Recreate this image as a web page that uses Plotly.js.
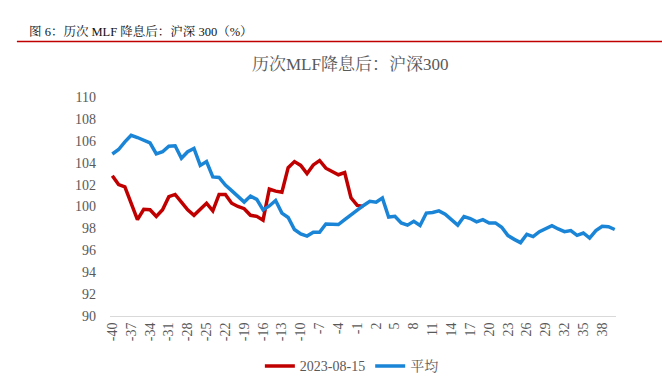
<!DOCTYPE html>
<html>
<head>
<meta charset="utf-8">
<script src="https://cdn.plot.ly/plotly-3.0.1.min.js"></script>
<style>html,body{margin:0;padding:0;background:#fff;}#chart{width:662px;height:389px;}</style>
</head>
<body>
<div id="chart"></div>
<script>
const days = [];
for (let d = -40; d <= 40; d++) days.push(d);

const series2023Name = "2023-08-15";
const series2023 = [102.8, 102.0, 101.8, 100.4, 98.8, 99.75, 99.7, 99.1, 99.7, 100.9,
  101.1, 100.4, 99.7, 99.2, 99.7, 100.3, 99.6, 101.1, 101.1, 100.3,
  100.0, 99.8, 99.2, 99.1, 98.75, 101.6, 101.4, 101.3, 103.55, 104.1,
  103.75, 103.0, 103.8, 104.2, 103.5, 103.2, 102.9, 103.1, 100.8, 100.1,
  100.0];

const seriesAvgName = "平均";
const seriesAvg = [104.8, 105.2, 105.9, 106.5, 106.3, 106.05, 105.8, 104.8, 105.0, 105.5,
  105.55, 104.4, 105.0, 105.3, 103.75, 104.1, 102.7, 102.65, 101.95, 101.45,
  100.9, 100.4, 100.95, 100.65, 99.7, 100.05, 100.55, 99.4, 99.0, 97.9,
  97.5, 97.3, 97.65, 97.65, 98.4, 98.35, 98.35, 98.8, 99.25, 99.6,
  100.1, 100.47, 100.4, 100.78, 99.04, 99.1, 98.5, 98.3, 98.65, 98.27,
  99.4, 99.45, 99.6, 99.3, 98.8, 98.3, 99.08, 98.9, 98.6, 98.8,
  98.5, 98.5, 98.1, 97.34, 97.0, 96.7, 97.46, 97.25, 97.7, 97.98,
  98.25, 97.95, 97.7, 97.8, 97.37, 97.58, 97.12, 97.8, 98.2, 98.15,
  97.9];

const xTickVals = [];
for (let d = -40; d <= 40; d += 3) xTickVals.push(d);
const xTickText = xTickVals.map(String);

const chartTitle = "历次MLF降息后：沪深300";
const headerText = "图 6：历次 MLF 降息后：沪深 300（%）";

const FONT = "Liberation Serif, 'Noto Serif CJK SC', 'Noto Sans CJK SC', serif";
const GRAY = "#595959";

const traces = [
  {x: days.slice(0, series2023.length), y: series2023, name: series2023Name, type: "scatter", mode: "lines",
   line: {color: "#C00000", width: 3.5}},
  {x: days, y: seriesAvg, name: seriesAvgName, type: "scatter", mode: "lines",
   line: {color: "#1A84D6", width: 3.5}}
];

const layout = {
  width: 662, height: 389,
  margin: {l: 110, r: 46, t: 97, b: 73, pad: 0, autoexpand: false},
  paper_bgcolor: "#fff", plot_bgcolor: "#fff",
  font: {family: FONT, color: GRAY, size: 14},
  title: {text: chartTitle, font: {family: FONT, size: 17, color: GRAY}, x: 0.529, xanchor: "center", y: 0.835, yanchor: "middle"},
  showlegend: true,
  legend: {orientation: "h", x: 0.478, xanchor: "center", y: -0.23, yanchor: "middle",
           font: {family: FONT, size: 14, color: GRAY}, itemwidth: 30, tracegroupgap: 0},
  xaxis: {range: [-40.37, 40.2], tickmode: "array", tickvals: xTickVals, ticktext: xTickText, automargin: false,
          tickangle: -90, showgrid: false, zeroline: false, showline: true, linecolor: "#D9D9D9", linewidth: 1,
          ticks: "", ticklen: 0, tickfont: {family: FONT, size: 14, color: GRAY}, fixedrange: true},
  yaxis: {range: [90, 110], dtick: 2, tick0: 90, showgrid: false, zeroline: false, showline: false, automargin: false,
          ticks: "", ticklabelstandoff: 13, tickfont: {family: FONT, size: 14, color: GRAY}, fixedrange: true},
  annotations: [
    {text: headerText, xref: "paper", yref: "paper", x: -0.164, y: 1.30, xanchor: "left", yanchor: "middle",
     showarrow: false, font: {family: FONT, size: 12.5, color: "#111"}}
  ],
  shapes: [
    {type: "line", xref: "paper", yref: "paper", x0: -0.184, x1: 1.1, y0: 1.253, y1: 1.253,
     line: {color: "#C00000", width: 1.5}}
  ]
};

Plotly.newPlot("chart", traces, layout, {displayModeBar: false, staticPlot: true});
</script>
</body>
</html>
